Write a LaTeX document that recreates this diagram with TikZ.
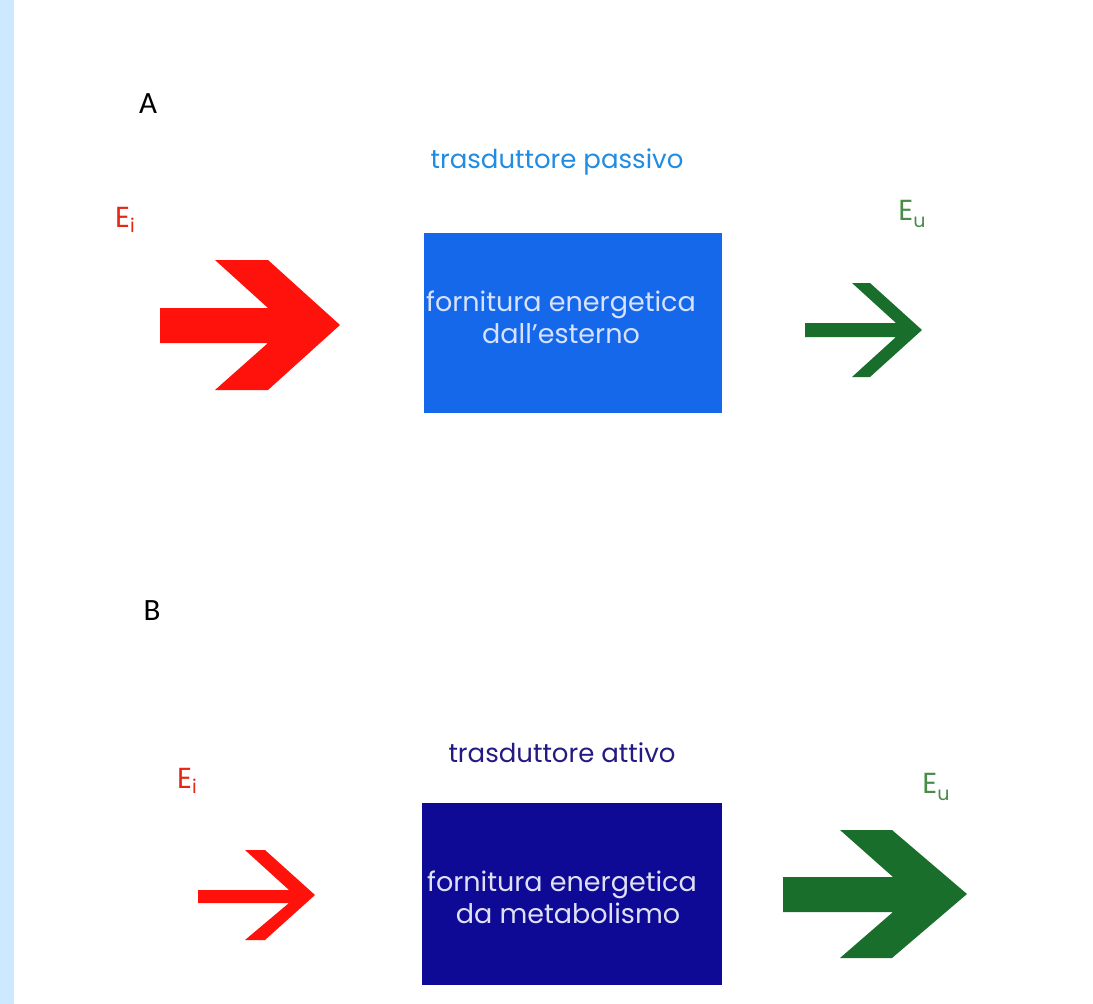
\documentclass[tikz,border=0pt]{standalone}
\usepackage{fontspec}
\setmainfont{Poppins}
\newfontfamily\labfont{Carlito}
\definecolor{strip}{RGB}{204,233,255}
\definecolor{redarrow}{RGB}{255,18,12}
\definecolor{greenarrow}{RGB}{24,110,42}
\definecolor{eired}{RGB}{228,40,20}
\definecolor{eugreen}{RGB}{72,140,72}
\definecolor{boxA}{RGB}{22,104,234}
\definecolor{titleA}{RGB}{32,140,226}
\definecolor{boxB}{RGB}{14,10,150}
\definecolor{titleB}{RGB}{36,26,130}
\definecolor{boxtextA}{RGB}{214,226,255}
\definecolor{boxtextB}{RGB}{224,224,244}
\begin{document}
\begin{tikzpicture}[x=1pt,y=-1pt,
  panellabel/.style={font=\labfont\fontsize{31}{34}\selectfont, text=black},
  titletext/.style={font=\fontsize{26}{30}\selectfont},
  boxtext/.style={font=\fontsize{27}{32}\selectfont, align=center},
  elabel/.style={font=\fontsize{29}{32}\selectfont},
  blockbox/.style={draw=none, minimum width=298pt, minimum height=180pt, inner sep=0pt}
]
\useasboundingbox (0,0) rectangle (1093,1004);
\fill[white] (0,0) rectangle (1093,1004);
\fill[strip] (0,0) rectangle (14,1004);

% ---------- Panel A ----------
\node[panellabel] (labA) at (148,104) {A};
\node[titletext, text=titleA] (titleA) at (557,162) {trasduttore passivo};
\node[blockbox, fill=boxA, anchor=north west] (boxA) at (424,233) {};
\node[boxtext, text=boxtextA] (txtA) at (561,317) {fornitura energetica\\dall'esterno};
\node[elabel, text=eired] (EiA) at (125,220) {E\raisebox{-0.35ex}{\fontsize{19}{19}\selectfont i}};
\node[elabel, text=eugreen] (EuA) at (912,214) {E\raisebox{-0.4ex}{\fontsize{19}{19}\selectfont u}};
\fill[redarrow] (160,308) -- (268,308) -- (215,260) -- (268,260) -- (340,325)
  -- (268,390) -- (215,390) -- (268,343) -- (160,343) -- cycle;
\fill[greenarrow] (805,323) -- (896,323) -- (852,283) -- (870,283) -- (922,330)
  -- (870,377) -- (852,377) -- (896,337) -- (805,337) -- cycle;

% ---------- Panel B ----------
\node[panellabel] (labB) at (152,611) {B};
\node[titletext, text=titleB] (titleB) at (562,753) {trasduttore attivo};
\node[blockbox, fill=boxB, minimum width=300pt, minimum height=182pt, anchor=north west] (boxB) at (422,803) {};
\node[boxtext, text=boxtextB] (txtB) at (562,897) {fornitura energetica\\\hspace*{12pt}da metabolismo};
\node[elabel, text=eired] (EiB) at (187,781) {E\raisebox{-0.35ex}{\fontsize{19}{19}\selectfont i}};
\node[elabel, text=eugreen] (EuB) at (936,787) {E\raisebox{-0.4ex}{\fontsize{19}{19}\selectfont u}};
\fill[redarrow] (198,890) -- (289,890) -- (245,850) -- (265,850) -- (315,895)
  -- (265,940) -- (245,940) -- (289,903) -- (198,903) -- cycle;
\fill[greenarrow] (783,877) -- (893,877) -- (840,830) -- (892,830) -- (967,894)
  -- (892,958) -- (840,958) -- (893,912) -- (783,912) -- cycle;
\end{tikzpicture}
\end{document}
